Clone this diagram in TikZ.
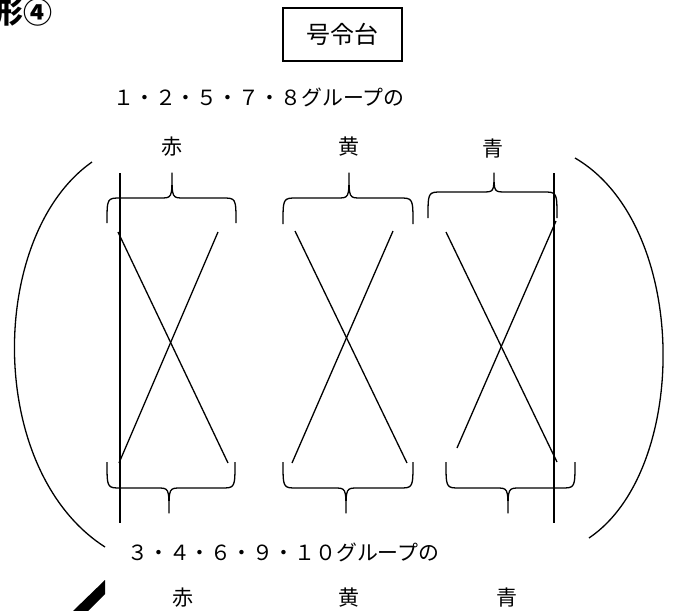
\documentclass[tikz,border=0pt]{standalone}
\usepackage{fontspec}
\newfontfamily\jpfont{Noto Sans CJK JP}

\begin{document}
\begin{tikzpicture}
[x=1pt,y=-1pt,
  lineDecorate/.style={-,line width=1.3pt},%
  braceDecorate/.style={-,line width=1.3pt,line join=round},%
  groupDecorate/.style={inner sep=0pt,anchor=west,font=\jpfont\fontsize{20.9}{24}\selectfont},%
  colourDecorate/.style={inner sep=0pt,font=\jpfont\fontsize{21}{24}\selectfont}]
\useasboundingbox (0,0) rectangle (673,611);
\clip (0,0) rectangle (673,611);
%% heading and podium
\node (figno) at (-6,-1) [anchor=north west,inner sep=0pt,
  font=\jpfont\bfseries\fontsize{29}{30}\selectfont] {形④};
\node (podium) at (342.5,34.5) [draw,line width=1.3pt,minimum width=119pt,
  minimum height=53pt,font=\jpfont\fontsize{24}{26}\selectfont] {号令台};
%% group captions
\node (upperGroups) at (113,97) [groupDecorate] {１・２・５・７・８グループの};
\node (lowerGroups) at (127,552) [groupDecorate] {３・４・６・９・１０グループの};
%% colour labels
\foreach \nodename/\text/\x/\y in {
  upperRed/赤/172/147, upperYellow/黄/349/147, upperBlue/青/493/149,
  lowerRed/赤/183/598, lowerYellow/黄/349/598, lowerBlue/青/507/598}
{
  \node (\nodename) at (\x,\y) [colourDecorate] {\text};
}
%% braces
\foreach \xa/\xb/\xc/\yend/\ybar/\ytip in {
  107/236/172/223/198/173, 283/413/349/224/198/173, 428/557/494/218/192/173,
  107/235/169/462/488/513, 283/413/346/462/488/513, 446/575/508/462/488/513}
{
  \draw[braceDecorate] (\xa,\yend) .. controls (\xa,\ybar) .. ({\xa+14},\ybar)
    -- ({\xc-12},\ybar) .. controls (\xc,\ybar) .. (\xc,\ytip)
    .. controls (\xc,\ybar) .. ({\xc+12},\ybar)
    -- ({\xb-14},\ybar) .. controls (\xb,\ybar) .. (\xb,\yend);
}
%% crossing lines
\foreach \xa/\ya/\xb/\yb in {
  118/232/228/463, 218/232/119/463,
  295/231/407/463, 393/231/292/463,
  446/232/557/462, 556/221/457/448,
  120/173/120/523, 554/173/554/523}
{
  \draw[lineDecorate] (\xa,\ya) -- (\xb,\yb);
}
%% outer brackets
\draw[lineDecorate] (92,162) .. controls (-12,235) and (-15,470) .. (105,547);
\draw[lineDecorate] (575,158) .. controls (690,225) and (690,470) .. (589,538);
%% pen mark
\fill (105,580) -- (105,594) -- (88,611) -- (73,611) -- cycle;
\end{tikzpicture}
\end{document}
